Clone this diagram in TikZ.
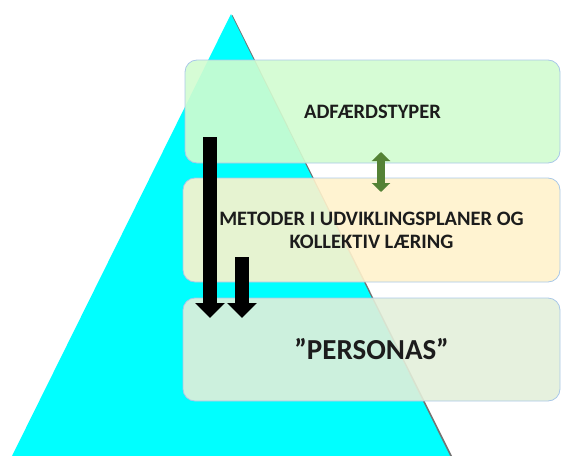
\documentclass[tikz,border=0pt]{standalone}
\usepackage{fontspec}
\setmainfont{Carlito}
\usetikzlibrary{arrows.meta}
\definecolor{pyrcyan}{HTML}{00FFFF}
\definecolor{boxA}{HTML}{D2FCD0}
\definecolor{boxB}{HTML}{FFF2CC}
\definecolor{boxC}{HTML}{E3EFDA}
\definecolor{boxline}{HTML}{A9C8E8}
\definecolor{arrowgreen}{HTML}{548235}
\definecolor{inktext}{HTML}{1C1C1C}
\tikzset{
  layerbox/.style={draw=boxline, line width=0.8pt, rounded corners=12pt,
    fill opacity=0.9, text opacity=1, inner sep=0pt, align=center,
    text=inktext, font=\bfseries},
  downarrow/.style={draw=black, line width=14pt,
    -{Triangle[width=29pt,length=15pt]}},
  twoway/.style={draw=arrowgreen, line width=8pt,
    {Triangle[width=18pt,length=9pt]}-{Triangle[width=18pt,length=9pt]}},
}
\begin{document}
\begin{tikzpicture}[x=1pt,y=-1pt]
\useasboundingbox (0,0) rectangle (562,455);
\begin{scope}
\clip (0,0) rectangle (562,455);
% pyramid with a faint drop shadow
\fill[black!55] (232.5,15) -- (452,456) -- (13,456) -- cycle;
\fill[pyrcyan] (231,14) -- (450,456) -- (12,456) -- cycle;
\end{scope}
% the three layers
\node[layerbox, fill=boxA, minimum width=375pt, minimum height=103pt,
  font=\bfseries\fontsize{20.5}{23}\selectfont] (adf) at (372.5,111.5) {ADFÆRDSTYPER};
\node[layerbox, fill=boxB, minimum width=377pt, minimum height=104pt,
  font=\bfseries\fontsize{20.5}{23}\selectfont] (met) at (371.5,230)
  {METODER I UDVIKLINGSPLANER OG\\KOLLEKTIV LÆRING};
\node[layerbox, fill=boxC, minimum width=377pt, minimum height=103pt,
  font=\bfseries\fontsize{29}{32}\selectfont] (per) at (371.5,349.5) {”PERSONAS”};
% arrows
\coordinate (startA) at (210,137);
\coordinate (startB) at (242,257);
\coordinate (endA) at (210,318);
\coordinate (endB) at (242,318);
\draw[downarrow] (startA) -- (endA);
\draw[downarrow] (startB) -- (endB);
\coordinate (gtop) at (381,152);
\coordinate (gbot) at (381,192);
\draw[twoway] (gtop) -- (gbot);
\end{tikzpicture}
\end{document}
